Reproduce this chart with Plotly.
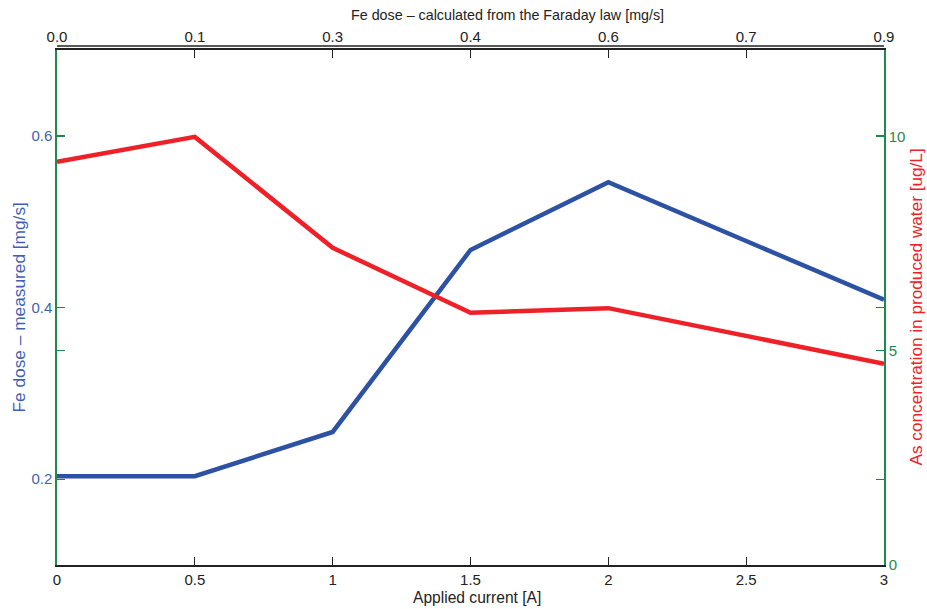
import plotly.graph_objects as go

current = [0, 0.5, 1, 1.5, 2, 3]
fe_measured = [0.2035, 0.2035, 0.255, 0.467, 0.546, 0.409]
as_conc = [9.42, 10.0, 7.41, 5.89, 6.0, 4.70]

x_ticks = [0, 0.5, 1, 1.5, 2, 2.5, 3]
x_ticktext = ["0", "0.5", "1", "1.5", "2", "2.5", "3"]
top_ticktext = ["0.0", "0.1", "0.3", "0.4", "0.6", "0.7", "0.9"]
left_ticks = [0.2, 0.4, 0.6]
right_ticks = [0, 5, 10]

BLUE = "#2D51A3"
BLUE_LBL = "#3F5FB5"
RED = "#EE2028"
GREEN = "#1E8A4C"
FONT = "Liberation Sans, Arial, sans-serif"

fig = go.Figure()
fig.add_trace(go.Scatter(x=current, y=fe_measured, mode="lines",
                         line=dict(color=BLUE, width=4.5), xaxis="x", yaxis="y",
                         showlegend=False))
fig.add_trace(go.Scatter(x=current, y=as_conc, mode="lines",
                         line=dict(color=RED, width=4.5), xaxis="x", yaxis="y2",
                         showlegend=False))
fig.add_trace(go.Scatter(x=[0, 3], y=[0.1, 0.1], mode="lines",
                         line=dict(width=0), opacity=0, xaxis="x2", yaxis="y",
                         showlegend=False, hoverinfo="skip"))

fig.update_layout(
    width=927, height=609,
    margin=dict(l=57, r=43, t=50, b=44),
    paper_bgcolor="white", plot_bgcolor="white",
    font=dict(family=FONT, size=15, color="#222"),
    xaxis=dict(range=[0, 3], tickvals=x_ticks, ticktext=x_ticktext,
               ticks="inside", ticklen=8, tickcolor="#222", tickwidth=1,
               showline=True, linecolor="#222", linewidth=2,
               showgrid=False, zeroline=False, automargin=False,
               tickfont=dict(size=15, color="#222")),
    xaxis2=dict(range=[0, 3], overlaying="x", side="top", anchor="y",
                tickvals=x_ticks, ticktext=top_ticktext,
                ticks="inside", ticklen=8, tickcolor="#222", tickwidth=1,
                showline=True, linecolor="#222", linewidth=1.5,
                showgrid=False, zeroline=False, automargin=False,
                tickfont=dict(size=15, color="#222")),
    yaxis=dict(range=[0.1, 0.7], tickvals=left_ticks, ticktext=["0.2", "0.4", "0.6"],
               ticks="inside", ticklen=8, tickcolor=BLUE_LBL, tickwidth=1,
               mirror="ticks", showline=True, linecolor=GREEN, linewidth=1.5,
               showgrid=False, zeroline=False, automargin=False,
               tickfont=dict(size=15, color=BLUE_LBL)),
    yaxis2=dict(range=[0, 12.03], overlaying="y", side="right", anchor="x",
                tickvals=right_ticks, ticktext=["0", "5", "10"],
                ticks="inside", ticklen=8, tickcolor=GREEN, tickwidth=1,
                mirror="ticks", showline=True, linecolor=GREEN, linewidth=1.5,
                showgrid=False, zeroline=False, automargin=False,
                tickfont=dict(size=15, color=GREEN)),
)

# axis titles as annotations (pixel-precise placement)
fig.add_annotation(text="Applied current [A]", xref="paper", yref="paper",
                   x=0.5, xshift=6, y=0, yshift=-32, xanchor="center", yanchor="middle",
                   showarrow=False, font=dict(size=15.6, color="#222"))
fig.add_annotation(text="Fe dose \u2013 calculated from the Faraday law [mg/s]",
                   xref="paper", yref="paper", x=0.5, xshift=37, y=1, yshift=35,
                   xanchor="center", yanchor="middle",
                   showarrow=False, font=dict(size=14.3, color="#222"))
fig.add_annotation(text="Fe dose \u2013 measured [mg/s]", xref="paper", yref="paper",
                   x=0, xshift=-39, y=0.5, textangle=-90, showarrow=False,
                   xanchor="center", yanchor="middle",
                   font=dict(size=17.3, color=BLUE_LBL))
fig.add_annotation(text="As concentration in produced water [ug/L]",
                   xref="paper", yref="paper", x=1, xshift=31, y=0.5,
                   textangle=-90, showarrow=False,
                   xanchor="center", yanchor="middle",
                   font=dict(size=17.2, color=RED))

# second line of the double top frame
fig.add_shape(type="line", xref="paper", yref="paper", x0=0, x1=1,
              y0=1 + 4 / 515, y1=1 + 4 / 515, line=dict(color="#222", width=1.5))

fig.write_html("out.html",
               config={"displayModeBar": False},
               post_script="document.body.style.margin='0';"
                           "document.body.style.overflow='hidden';")
